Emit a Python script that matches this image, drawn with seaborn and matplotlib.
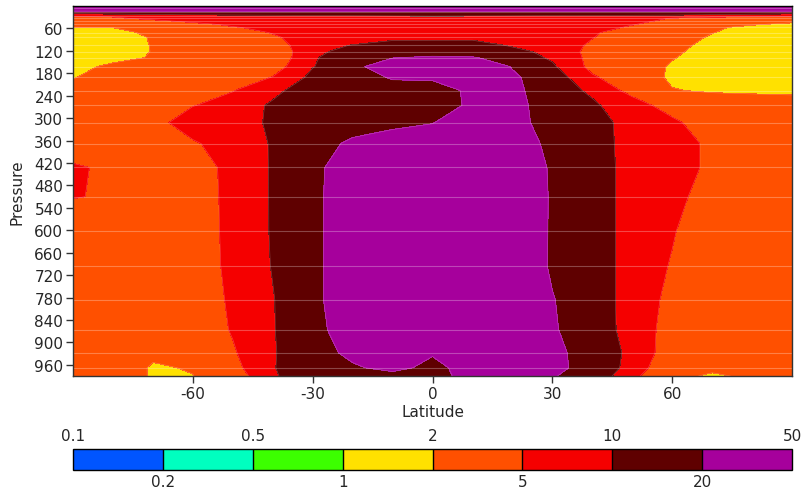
import numpy as np
import matplotlib
matplotlib.use('Agg')
import matplotlib.pyplot as plt
import seaborn as sns

# ---- data ----
latitudes = [-90, -80, -70, -60, -50, -40, -30, -20, -10, 0, 10, 20, 30, 40, 50, 60, 70, 80, 90]
pressure_levels = [5, 15, 26, 33, 41, 49, 57, 71, 84, 105, 122, 138, 162, 191, 226, 266, 312,
                   368, 432, 510, 601, 695, 786, 866, 928, 968, 990]
field = [
    [40, 40, 40, 40, 40, 40, 40, 40, 40, 40, 40, 40, 40, 40, 40, 40, 40, 40, 40],                         # 5
    [18, 18.2, 18.3, 18.5, 18.7, 18.9, 19.1, 19.2, 19.4, 19.6, 19.4, 19.2, 19.1, 18.9, 18.7, 18.5, 18.3, 18.2, 18],  # 15
    [5.8, 6.59, 7.48, 8.5, 8.82, 9.15, 9.49, 9.85, 10.2, 10.6, 10.3, 10.05, 9.77, 9.5, 9.25, 9, 7.95, 7.02, 6.2],    # 26
    [3.16, 3.69, 7.84, 7.08, 7.08, 7.08, 7.08, 7.08, 7.08, 7.08, 7.08, 7.08, 7.08, 7.08, 7.41, 4.76, 3.16, 3.16, 3.16],  # 33
    [3.16, 3.16, 3.1, 6.88, 7.08, 7.08, 7.08, 7.08, 7.08, 7.08, 7.08, 7.08, 7.08, 7.08, 7.47, 3.34, 3.16, 3.16, 3.16],   # 41
    [3.16, 3.16, 3.16, 3.1, 6.88, 7.08, 7.08, 7.08, 7.08, 7.08, 7.08, 7.08, 7.08, 7.08, 5.3, 3.06, 3.16, 2.45, 1.27],    # 49
    [2.05, 2.05, 3.16, 3.16, 4.49, 7.73, 7.08, 7.08, 7.08, 7.08, 7.08, 7.08, 7.08, 7.83, 4.3, 3.16, 2.7, 1.27, 1.41],    # 57
    [1.41, 1.27, 2.7, 3.16, 3.06, 5.28, 7.08, 7.08, 7.08, 7.08, 7.08, 7.08, 7.08, 5.68, 2.99, 3.16, 2.06, 1.41, 1.41],   # 71
    [1.41, 1.32, 2.15, 3.16, 3.16, 4.38, 7.8, 7.08, 8.0, 8.2, 8.0, 7.08, 7.08, 5.14, 3.16, 3.34, 1.76, 1.41, 1.41],      # 84
    [1.41, 1.36, 2.08, 3.16, 3.16, 3.6, 7.68, 10.3, 14.1, 14.1, 15, 9, 7.72, 4.46, 3.16, 3, 1.34, 1.41, 1.41],          # 105
    [1.41, 1.38, 2.06, 3.16, 3.16, 3.24, 7.71, 14.7, 14.1, 14.1, 14.1, 13.3, 7.52, 4.17, 3.16, 2.45, 1.27, 1.41, 1.41],  # 122
    [1.41, 1.3, 2.24, 3.16, 3.16, 2.84, 9.26, 15.1, 19.5, 22.3, 21.1, 14.7, 9.06, 4.08, 3.16, 2.1, 1.35, 1.41, 1.41],   # 138
    [1.27, 2.71, 3.16, 3.16, 3.16, 3.55, 9.73, 16, 33.4, 31.6, 32.2, 19.4, 11.1, 4.08, 3.31, 1.82, 1.41, 1.41, 1.41],   # 162
    [1.89, 3.27, 3.16, 3.16, 3.12, 5.14, 11.8, 12.4, 22, 23, 31.6, 21.7, 14.9, 5.49, 3.13, 1.78, 1.41, 1.41, 1.41],     # 191
    [3.16, 3.16, 3.16, 3.16, 4.86, 8.34, 15.2, 14.1, 13, 13, 24.2, 24, 13.3, 9.08, 3.86, 2.07, 1.85, 1.75, 1.65],       # 226
    [3.16, 3.16, 3.16, 4.86, 6.67, 11.1, 14.1, 14.1, 14.1, 12.8, 23.4, 27.1, 12.7, 10.9, 7.23, 3.45, 3.16, 3.16, 3.16], # 266
    [3.16, 3.16, 3.69, 7.84, 6.61, 11.5, 14.1, 15, 17, 19.5, 31.6, 28.6, 13, 14.4, 7.23, 5.96, 2.99, 3.16, 3.16],       # 312
    [3.8, 3.16, 3.16, 4.5, 7.47, 10.4, 15.1, 22.5, 28, 31.6, 31.6, 33.4, 16, 14.6, 7.35, 7.9, 4.09, 3.16, 3.16],        # 368
    [5.3, 4.6, 3.16, 3.12, 6.69, 10.5, 16, 33.4, 31.6, 31.6, 31.6, 32.9, 18.5, 14.8, 7.53, 7.9, 4.09, 3.16, 3.16],      # 432
    [5.1, 4.78, 3.16, 3.07, 6.5, 10.5, 16.5, 33.5, 31.6, 31.6, 31.6, 32.7, 18.9, 14.8, 7.53, 6.88, 3.1, 3.16, 3.16],    # 510
    [3.8, 3.16, 3.16, 3.05, 6.38, 10.5, 16.5, 33.5, 31.6, 31.6, 31.6, 32.7, 18.8, 14.8, 7.53, 5.3, 3.06, 3.16, 3.16],   # 601
    [3.16, 3.16, 3.16, 3.01, 6.23, 10.3, 16.5, 33.5, 31.6, 31.6, 31.6, 32.8, 18.6, 14.5, 7.65, 4.75, 3.16, 3.16, 3.16], # 695
    [3.16, 3.16, 3.16, 3, 5.7, 9.73, 16.5, 33.5, 31.6, 31.6, 31.6, 31.6, 20.6, 14, 7.83, 4.1, 3.16, 3.16, 3.16],        # 786
    [3.16, 3.16, 3.16, 3.06, 5.3, 9.73, 15, 32.7, 31.6, 31.6, 31.6, 31.6, 21.5, 13.6, 8.12, 3.61, 3.16, 3.16, 3.16],    # 866
    [3.16, 3.16, 2.3, 2.6, 4.61, 9.73, 12.7, 25.7, 31.6, 22, 31.6, 31.6, 25.4, 13.4, 9.03, 3.2, 3.16, 3.16, 3.16],      # 928
    [3.16, 3.16, 1.85, 2.1, 3.99, 9.7, 14.4, 17.5, 26.9, 15, 30.8, 31.6, 24.3, 15.1, 8.27, 2.39, 2.2, 2.4, 3.16],       # 968
    [3.16, 3.2, 1.85, 1.97, 3.3, 9.31, 14.7, 14.1, 14.1, 13.4, 30, 31.6, 20.6, 16.3, 6.1, 2.25, 1.88, 2.15, 3.16],      # 990
]
contour_levels = [0.1, 0.2, 0.5, 1, 2, 5, 10, 20, 50]
level_colors = ['#0055FF', '#00FFBF', '#3CFF00', '#FFE100', '#FF5000', '#F50000', '#5F0000', '#A6009C']
y_ticks = list(range(60, 961, 60))
x_ticks = [-60, -30, 0, 30, 60]

# ---- drawing ----
sns.set_theme(style='white')
plt.rcParams['font.family'] = ['DejaVu Sans']
plt.rcParams['axes.unicode_minus'] = False

logf = np.log10(np.array(field, dtype=float))
loglev = np.log10(contour_levels)

fig = plt.figure(figsize=(8.04, 4.89), dpi=100)
ax = fig.add_axes([0.0908, 0.229, 0.8943, 0.7566])
cs = ax.contourf(latitudes, pressure_levels, logf, levels=loglev, colors=level_colors)
ax.contour(latitudes, pressure_levels, logf, levels=loglev, colors='white', linewidths=0.5, alpha=0.25)
for p in pressure_levels:
    ax.axhline(p, color='white', lw=0.8, alpha=0.28)

ax.set_xlim(-90, 90)
ax.set_ylim(990, 0)
ax.set_xticks(x_ticks)
ax.set_yticks(y_ticks)
ax.tick_params(direction='out', length=5, width=1, color='#333333', labelsize=11, pad=2,
               left=True, bottom=True)
ax.set_xlabel('Latitude', fontsize=11, labelpad=2)
ax.set_ylabel('Pressure', fontsize=11, labelpad=7)
for s in ax.spines.values():
    s.set_color('#333333')
    s.set_linewidth(1)
    s.set_visible(True)
ax.spines['top'].set_color('black')

cax = fig.add_axes([0.0908, 0.0368, 0.8943, 0.0429])
cb = fig.colorbar(cs, cax=cax, orientation='horizontal', drawedges=True)
cb.outline.set_edgecolor('black')
cb.outline.set_linewidth(1)
cb.dividers.set_color('black')
cb.dividers.set_linewidth(1)
cax.set_xticks([])
nseg = len(contour_levels) - 1
for i, lv in enumerate(contour_levels):
    lab = f'{lv:g}'
    if i % 2 == 0:
        cax.text(i / nseg, 1.3, lab, transform=cax.transAxes, ha='center', va='bottom', fontsize=11)
    else:
        cax.text(i / nseg, -0.2, lab, transform=cax.transAxes, ha='center', va='top', fontsize=11)

fig.savefig('out.png', dpi=100)
